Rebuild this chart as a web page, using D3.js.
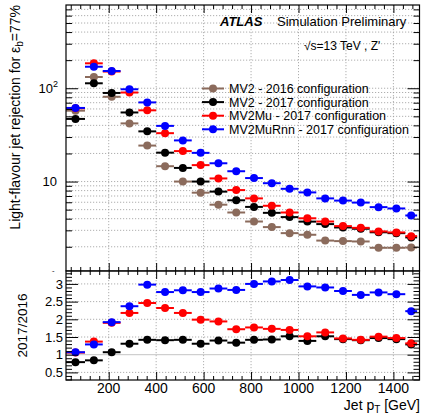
<!DOCTYPE html>
<html>
<head>
<meta charset="utf-8">
<script src="https://cdn.jsdelivr.net/npm/d3@7"></script>
<style>
  body { margin: 0; background: #fff; }
  svg { display: block; font-family: "Liberation Sans", Arial, Helvetica, sans-serif; }
</style>
</head>
<body>
<svg id="chart"></svg>
<script>
// Jet pT bin edges [GeV]
const binEdges = [20, 100, 175, 250, 325, 400, 475, 550, 625, 700, 775, 850, 925, 1000, 1075, 1150, 1225, 1300, 1375, 1450, 1500];

const seriesNames = [
  "MV2 - 2016 configuration",
  "MV2 - 2017 configuration",
  "MV2Mu - 2017 configuration",
  "MV2MuRnn - 2017 configuration"
];

// light-flavour jet rejection (upper panel)
const rejMV2_2016 = [57.5, 132, 81, 42, 24.3, 14.6, 10.0, 7.6, 5.65, 4.66, 3.73, 3.25, 2.80, 2.69, 2.33, 2.30, 2.28, 1.95, 1.95, 1.96];
const rejMV2_2017 = [46.9, 113, 89, 55, 34.5, 20.4, 14.0, 10.0, 7.8, 6.3, 5.35, 4.62, 4.16, 3.72, 3.5, 3.22, 3.12, 2.86, 2.80, 2.52];
const rejMV2Mu_2017 = [61, 185, 151, 90, 58, 33, 21.2, 15.0, 10.8, 8.1, 6.6, 5.5, 4.66, 4.04, 3.73, 3.33, 3.19, 2.92, 2.85, 2.6];
const rejMV2MuRnn_2017 = [61.5, 170, 153, 97.5, 70.5, 39.5, 27.6, 20.3, 15.7, 12.9, 10.9, 9.6, 8.36, 7.65, 6.6, 6.25, 5.95, 5.32, 5.15, 4.33];

// ratio to MV2 2016 (lower panel)
const ratioMV2_2017 = [0.79, 0.84, 1.07, 1.31, 1.42, 1.41, 1.42, 1.31, 1.40, 1.34, 1.42, 1.43, 1.52, 1.39, 1.52, 1.44, 1.41, 1.47, 1.44, 1.29];
const ratioMV2Mu_2017 = [1.06, 1.37, 1.90, 2.18, 2.46, 2.32, 2.18, 1.99, 1.94, 1.72, 1.77, 1.73, 1.70, 1.52, 1.63, 1.46, 1.42, 1.51, 1.47, 1.32];
const ratioMV2MuRnn_2017 = [1.07, 1.29, 1.92, 2.37, 2.98, 2.77, 2.82, 2.77, 2.87, 2.83, 3.0, 3.07, 3.11, 2.93, 2.90, 2.80, 2.69, 2.76, 2.71, 2.23];

// tick labels
const xTickLabels = [200, 400, 600, 800, 1000, 1200, 1400];
const ratioTickLabels = [0.5, 1, 1.5, 2, 2.5, 3];

const colors = ["#8b6b5c", "#000000", "#ff0000", "#0000ff"];

const W = 423, H = 419;
const svg = d3.select("#chart").attr("width", W).attr("height", H);
svg.append("rect").attr("width", W).attr("height", H).attr("fill", "#fff");

// frame positions
const padL = 66, padR = 419.5, padT = 5, padMid = 271, padB = 380;

const x = d3.scaleLinear().domain([20, 1510]).range([padL, padR]);
const yTop = d3.scaleLog().domain([1.1, 780]).range([padMid, padT]);
const yRatio = d3.scaleLinear().domain([0.285, 3.365]).range([padB, padMid]);

// minor ticks
const xMinor = d3.range(40, 1510, 40).filter((v) => v % 200 !== 0);
const logMinor = [];
[1, 10, 100].forEach((k) => {
  for (let m = 2; m <= 9; m++) logMinor.push(m * k);
});
const logMinorIn = logMinor.filter((v) => v >= 1.1 && v <= 780);
const ratioMinor = d3.range(3, 34).map((v) => v / 10)
  .filter((v) => Math.abs(v * 2 - Math.round(v * 2)) > 1e-6);

function tickRow(g, axis, values, size, tx, ty) {
  g.append("g")
    .attr("transform", `translate(${tx},${ty})`)
    .call(axis.tickValues(values).tickSize(size).tickFormat(""))
    .call((s) => s.select(".domain").remove())
    .call((s) => s.selectAll("line").attr("stroke", "#000").attr("stroke-width", 1));
}

function dotted(g, x1, y1, x2, y2) {
  g.append("line")
    .attr("x1", x1).attr("x2", x2).attr("y1", y1).attr("y2", y2)
    .attr("stroke", "#9a9a9a")
    .attr("stroke-width", 0.8)
    .attr("stroke-dasharray", "1.2,1.8");
}

function drawSeries(g, y, values, color) {
  const data = values.map((v, i) => ({ lo: binEdges[i], hi: binEdges[i + 1], v }));
  g.selectAll(null).data(data).enter().append("line")
    .attr("x1", (d) => x(d.lo))
    .attr("x2", (d) => x(d.hi))
    .attr("y1", (d) => y(d.v))
    .attr("y2", (d) => y(d.v))
    .attr("stroke", color)
    .attr("stroke-width", 2);
  g.selectAll(null).data(data).enter().append("circle")
    .attr("cx", (d) => x((d.lo + d.hi) / 2))
    .attr("cy", (d) => y(d.v))
    .attr("r", 4)
    .attr("fill", color);
}

// ---------- upper panel ----------
const up = svg.append("g");

// grid
[10, 100].concat(logMinorIn).forEach((v) => dotted(up, padL, yTop(v), padR, yTop(v)));
xTickLabels.forEach((v) => dotted(up, x(v), padT, x(v), padMid));

// points
const upData = [rejMV2_2016, rejMV2_2017, rejMV2Mu_2017, rejMV2MuRnn_2017];
upData.forEach((vals, i) => drawSeries(up, yTop, vals, colors[i]));

// ticks
tickRow(up, d3.axisTop(x), xTickLabels, 8, 0, padMid);
tickRow(up, d3.axisTop(x), xMinor, 4, 0, padMid);
tickRow(up, d3.axisBottom(x), xTickLabels, 8, 0, padT);
tickRow(up, d3.axisBottom(x), xMinor, 4, 0, padT);
tickRow(up, d3.axisRight(yTop), [10, 100], 12, padL, 0);
tickRow(up, d3.axisRight(yTop), logMinorIn, 6, padL, 0);
tickRow(up, d3.axisLeft(yTop), [10, 100], 12, padR, 0);
tickRow(up, d3.axisLeft(yTop), logMinorIn, 6, padR, 0);

up.append("rect")
  .attr("x", padL).attr("y", padT)
  .attr("width", padR - padL).attr("height", padMid - padT)
  .attr("fill", "none").attr("stroke", "#000").attr("stroke-width", 1.2);

// log labels
const logLab = up.append("g").attr("font-size", 13).attr("text-anchor", "end");
logLab.append("text").attr("x", 57).attr("y", yTop(1) + 4.7).text("1");
logLab.append("text").attr("x", 57).attr("y", yTop(10) + 4.7).text("10");
const l100 = logLab.append("text").attr("x", 58).attr("y", yTop(100) + 4.7);
l100.append("tspan").text("10");
l100.append("tspan").attr("font-size", 9).attr("dy", -6).text("2");

// y title
const yt = up.append("text")
  .attr("transform", `translate(20,${padT}) rotate(-90)`)
  .attr("text-anchor", "end")
  .attr("font-size", 14);
yt.append("tspan").text("Light-flavour jet rejection for \u03b5");
yt.append("tspan").attr("font-size", 10).attr("dy", 3).text("b");
yt.append("tspan").attr("dy", -3).text("=77%");

// labels
up.append("text").attr("x", 220).attr("y", 25.5)
  .attr("font-size", 13).attr("font-weight", "bold").attr("font-style", "italic")
  .text("ATLAS");
up.append("text").attr("x", 277).attr("y", 25.5).attr("font-size", 13)
  .text("Simulation Preliminary");
up.append("text").attr("x", 304).attr("y", 49.5).attr("font-size", 12)
  .text("\u221as=13 TeV , Z'");

// legend
const leg = up.append("g");
seriesNames.forEach((name, i) => {
  const ly = 88.5 + 13.6 * i;
  leg.append("line").attr("x1", 202).attr("x2", 224).attr("y1", ly).attr("y2", ly)
    .attr("stroke", colors[i]).attr("stroke-width", 2);
  leg.append("circle").attr("cx", 213).attr("cy", ly).attr("r", 4).attr("fill", colors[i]);
  leg.append("text").attr("x", 229).attr("y", ly + 4.5).attr("font-size", 12.5).text(name);
});

// ---------- lower panel ----------
svg.append("rect").attr("x", 0).attr("y", padMid + 0.6).attr("width", W).attr("height", H - padMid)
  .attr("fill", "#fff");
const lo = svg.append("g");

ratioTickLabels.filter((v) => v !== 1)
  .forEach((v) => dotted(lo, padL, yRatio(v), padR, yRatio(v)));
xTickLabels.forEach((v) => dotted(lo, x(v), padMid, x(v), padB));
lo.append("line")
  .attr("x1", padL).attr("x2", padR).attr("y1", yRatio(1)).attr("y2", yRatio(1))
  .attr("stroke", "#c4c4c4").attr("stroke-width", 1);

const loData = [ratioMV2_2017, ratioMV2Mu_2017, ratioMV2MuRnn_2017];
loData.forEach((vals, i) => drawSeries(lo, yRatio, vals, colors[i + 1]));

tickRow(lo, d3.axisTop(x), xTickLabels, 8, 0, padB);
tickRow(lo, d3.axisTop(x), xMinor, 4, 0, padB);
tickRow(lo, d3.axisBottom(x), xTickLabels, 8, 0, padMid);
tickRow(lo, d3.axisBottom(x), xMinor, 4, 0, padMid);
tickRow(lo, d3.axisRight(yRatio), ratioTickLabels, 12, padL, 0);
tickRow(lo, d3.axisRight(yRatio), ratioMinor, 6, padL, 0);
tickRow(lo, d3.axisLeft(yRatio), ratioTickLabels, 12, padR, 0);
tickRow(lo, d3.axisLeft(yRatio), ratioMinor, 6, padR, 0);

lo.append("rect")
  .attr("x", padL).attr("y", padMid)
  .attr("width", padR - padL).attr("height", padB - padMid)
  .attr("fill", "none").attr("stroke", "#000").attr("stroke-width", 1.2);

// ratio labels
lo.append("g").attr("font-size", 13).attr("text-anchor", "end")
  .selectAll("text").data(ratioTickLabels).enter().append("text")
  .attr("x", 63)
  .attr("y", (d) => yRatio(d) + 4.6)
  .text((d) => d);

// x labels
lo.append("g").attr("font-size", 14).attr("text-anchor", "middle")
  .selectAll("text").data(xTickLabels).enter().append("text")
  .attr("x", (d) => x(d))
  .attr("y", 393.3)
  .text((d) => d);

lo.append("text")
  .attr("transform", `translate(26.5,${(padMid + padB) / 2}) rotate(-90)`)
  .attr("text-anchor", "middle")
  .attr("font-size", 13.5)
  .text("2017/2016");

const xt = lo.append("text").attr("x", 420).attr("y", 410)
  .attr("text-anchor", "end").attr("font-size", 14);
xt.append("tspan").text("Jet p");
xt.append("tspan").attr("font-size", 10).attr("dy", 3).text("T");
xt.append("tspan").attr("dy", -3).text(" [GeV]");
</script>
</body>
</html>
